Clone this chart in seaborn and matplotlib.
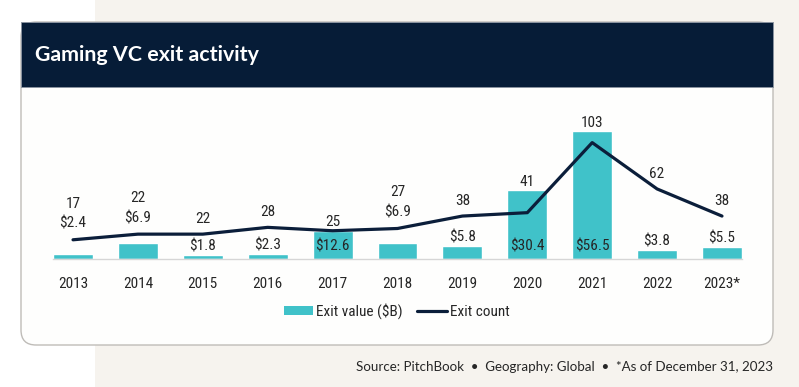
import numpy as np
import pandas as pd
import matplotlib
matplotlib.use("Agg")
import matplotlib.pyplot as plt
from matplotlib import font_manager
from matplotlib.font_manager import FontProperties
from matplotlib.patches import FancyBboxPatch, Rectangle, Patch
from matplotlib.lines import Line2D
import seaborn as sns

# Data
years = ['2013', '2014', '2015', '2016', '2017', '2018', '2019', '2020', '2021', '2022', '2023*']
exit_value = [2.4, 6.9, 1.8, 2.3, 12.6, 6.9, 5.8, 30.4, 56.5, 3.8, 5.5]
exit_count = [17, 22, 22, 28, 25, 27, 38, 41, 103, 62, 38]

# where each $ label sits: above the line, above the bar, or inside the bar
value_label_spot = ['line', 'line', 'bar', 'bar', 'inside', 'line', 'bar', 'inside', 'inside', 'bar', 'bar']

TEAL = '#40c2c9'
NAVY = '#0b1e3a'
HEADER = '#061c37'
BEIGE = '#f6f3ee'
TEXT = '#262626'

sns.set_style("white")
plt.rcParams['font.family'] = ['Roboto', 'DejaVu Sans']


def find_narrow_font():
    """Pick a condensed / narrow regular face if one is installed."""
    picks = []
    for f in font_manager.fontManager.ttflist:
        name = f.name.lower()
        narrow = 'narrow' in name or 'condensed' in name or f.stretch in ('condensed', 'semi-condensed', 'extra-condensed')
        if narrow and f.weight in (400, 'normal', 'regular') and f.style == 'normal':
            picks.append(f)
    if not picks:
        return None
    order = ['liberation', 'roboto', 'open', 'noto', 'dejavu']
    picks.sort(key=lambda f: next((k for k, o in enumerate(order) if o in f.name.lower()), 9))
    return picks[0].fname


narrow_path = find_narrow_font()
if narrow_path:
    lab_font = FontProperties(fname=narrow_path, size=11)
else:
    lab_font = FontProperties(family=['Roboto', 'DejaVu Sans'], size=10)

W, H = 799, 387
fig = plt.figure(figsize=(W / 100, H / 100), dpi=100)
fig.patch.set_facecolor('white')

# backdrop: beige panel, card and header
bg = fig.add_axes([0, 0, 1, 1])
bg.set_xlim(0, W)
bg.set_ylim(H, 0)
bg.axis('off')
bg.add_patch(Rectangle((95, 0), W - 95, H, fc=BEIGE, ec='none'))
bg.add_patch(FancyBboxPatch((21, 22), 752, 323, boxstyle='round,pad=0,rounding_size=15',
                            fc='#fefefd', ec='#bfbcb8', lw=1))
bg.add_patch(Rectangle((21, 22), 752, 65, fc=HEADER, ec='#8a93a0', lw=0.7))
bg.text(35, 55, 'Gaming VC exit activity', color='white', fontsize=15.4,
        fontweight='bold', family=['Lato', 'DejaVu Sans'], va='center', ha='left')

# plot area
left, right, base_px, top_px = 52.9, 742.1, 259, 110
ax = fig.add_axes([left / W, (H - base_px) / H, (right - left) / W, (base_px - top_px) / H])
ax.patch.set_alpha(0)

df = pd.DataFrame({'year': years, 'value': exit_value, 'count': exit_count})
sns.barplot(data=df, x='year', y='value', color=TEAL, saturation=1, width=0.616, ax=ax)
ax.set_xlim(-0.31, 10.31)
ax.set_ylim(0, (base_px - top_px) / 2.26)
ax.set_xlabel('')
ax.set_ylabel('')
ax.set_yticks([])
for s in ['top', 'left', 'right']:
    ax.spines[s].set_visible(False)
ax.spines['bottom'].set_color('#d6d6d6')
ax.spines['bottom'].set_linewidth(1)
ax.tick_params(axis='x', length=0, pad=13, labelcolor=TEXT)
for t in ax.get_xticklabels():
    t.set_fontproperties(lab_font)

ax2 = ax.twinx()
sns.lineplot(x=np.arange(len(years)), y=exit_count, ax=ax2, color=NAVY, lw=2.3)
ax2.set_xlim(ax.get_xlim())
ax2.set_ylim(0, (base_px - top_px) / 1.13)
ax2.set_yticks([])
ax2.set_ylabel('')
for s in ax2.spines.values():
    s.set_visible(False)

# data labels
fig.canvas.draw()
for i, (v, c, spot) in enumerate(zip(exit_value, exit_count, value_label_spot)):
    line_y = ax2.transData.transform((i, c))[1]
    bar_y = ax.transData.transform((i, v))[1]
    kw = dict(ha='center', va='center', fontproperties=lab_font, color=TEXT, textcoords='offset pixels')
    if spot == 'line':
        ax2.annotate(f'${v}', xy=(i, c), xytext=(0, 16), **kw)
        ax2.annotate(f'{c}', xy=(i, c), xytext=(0, 36), **kw)
    else:
        if spot == 'bar':
            ax2.annotate(f'${v}', xy=(i, v), xycoords=ax.transData, xytext=(0, 8.5), **kw)
        else:
            ax2.annotate(f'${v}', xy=(i, 0), xycoords=ax.transData, xytext=(0, 13), **kw)
        if bar_y > line_y:
            ax2.annotate(f'{c}', xy=(i, v), xycoords=ax.transData, xytext=(0, 8.5), **kw)
        else:
            ax2.annotate(f'{c}', xy=(i, c), xytext=(0, 15), **kw)

# legend
handles = [Patch(fc=TEAL, ec='none'), Line2D([0], [0], color=NAVY, lw=2.3)]
fig.legend(handles, ['Exit value ($B)', 'Exit count'], loc='center',
           bbox_to_anchor=(396.5 / W, (H - 311) / H), ncol=2, frameon=False,
           prop=lab_font, handlelength=1.95, handleheight=0.55, handletextpad=0.2,
           columnspacing=0.9, labelcolor=TEXT)

fig.text(773 / W, (H - 367) / H,
         'Source: PitchBook  \u2022  Geography: Global  \u2022  *As of December 31, 2023',
         ha='right', va='center', fontsize=9.6, color=TEXT, family=['Lato', 'DejaVu Sans'])

fig.savefig('out.png', dpi=100)
